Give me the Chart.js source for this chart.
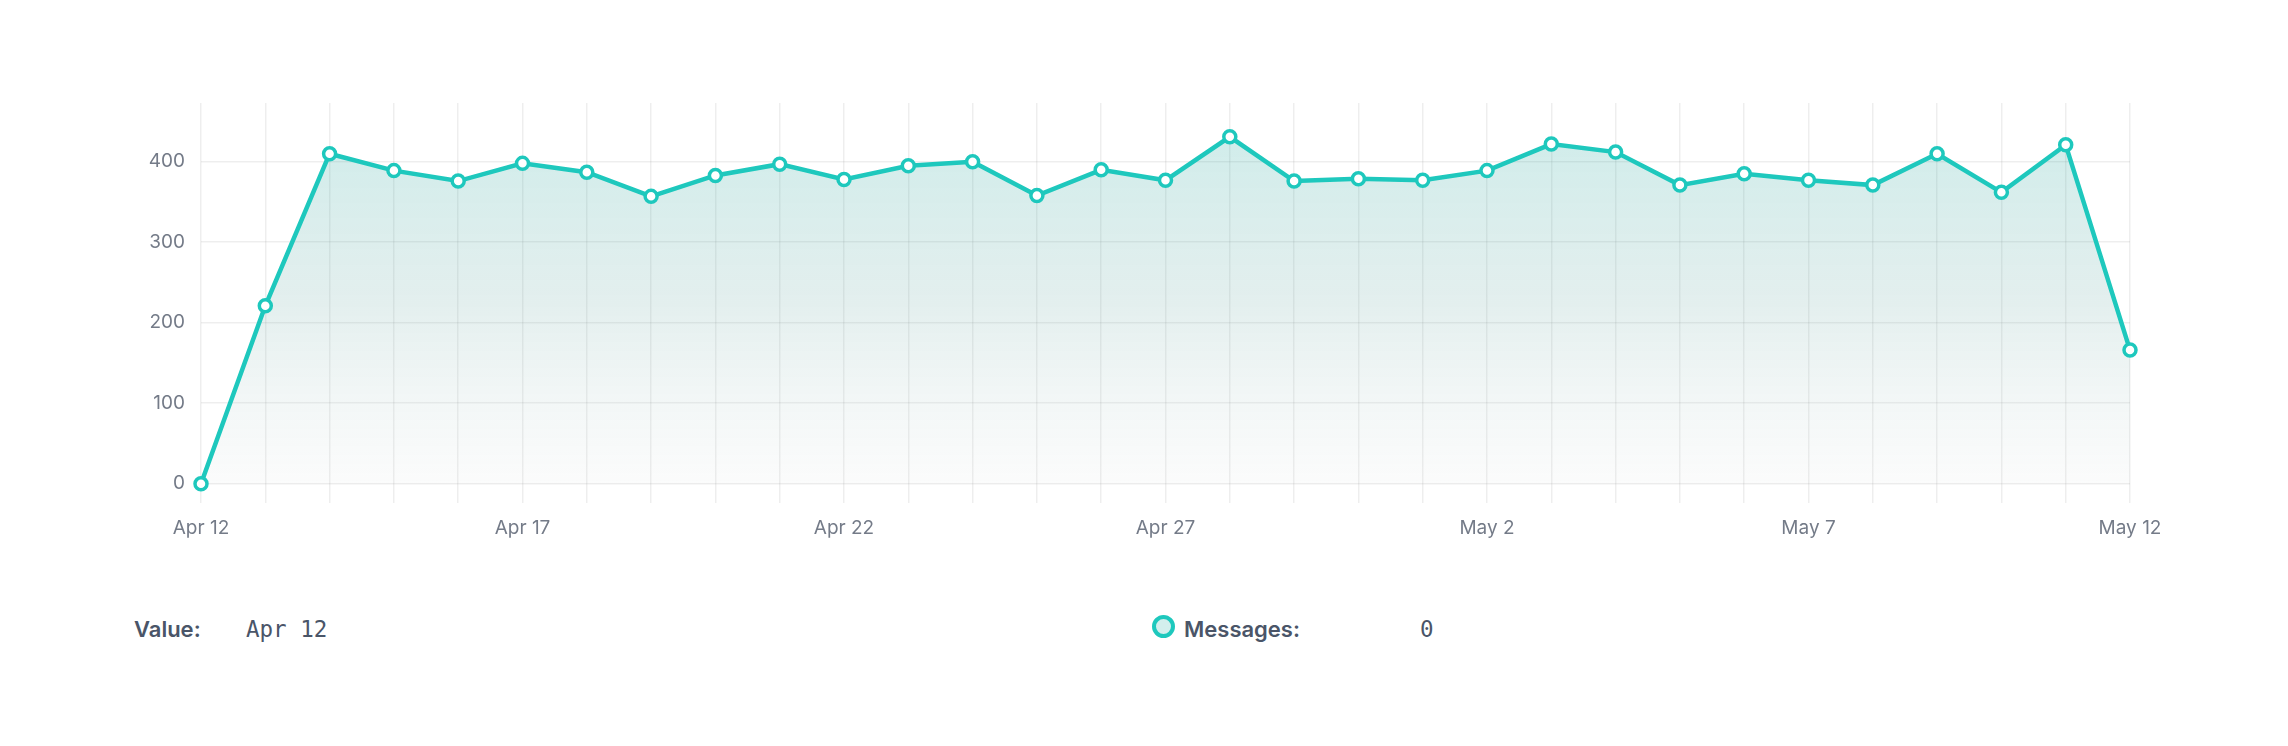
<!DOCTYPE html>
<html>
<head>
<meta charset="utf-8">
<script src="https://cdn.jsdelivr.net/npm/chart.js@4"></script>
<style>
  html, body { margin: 0; padding: 0; background: #fff; width: 2288px; height: 746px; overflow: hidden; }
  #wrap { position: absolute; left: 0; top: 0; width: 2288px; height: 563px; }
  .info { position: absolute; top: 614px; height: 30px; line-height: 30px; color: #4a5568; font-size: 22px; white-space: nowrap; }
  .lbl { font-family: Inter, "Noto Sans", sans-serif; font-weight: 600; }
  .mono { font-family: "DejaVu Sans Mono", "Liberation Mono", monospace; font-size: 22.5px; }
  .dot { position: absolute; top: 615px; left: 1152px; width: 15px; height: 15px; border: 4px solid #1ec8bd; border-radius: 50%; background: #d3efed; }
</style>
</head>
<body>
<div id="wrap"><canvas id="chart1"></canvas></div>

<div class="info lbl" style="left:134px">Value:</div>
<div class="info mono" style="left:246px">Apr 12</div>
<span class="dot"></span>
<div class="info lbl" style="left:1184px">Messages:</div>
<div class="info mono" style="left:1420px">0</div>

<script>
const dates = [
  "Apr 12","Apr 13","Apr 14","Apr 15","Apr 16","Apr 17","Apr 18","Apr 19","Apr 20","Apr 21",
  "Apr 22","Apr 23","Apr 24","Apr 25","Apr 26","Apr 27","Apr 28","Apr 29","Apr 30","May 1",
  "May 2","May 3","May 4","May 5","May 6","May 7","May 8","May 9","May 10","May 11","May 12"
];
const messages = [
  0, 221, 410, 389, 376, 398, 387, 357, 383, 397,
  378, 395, 400, 358, 390, 377, 431, 376, 379, 377,
  389, 422, 412, 371, 385, 377, 371, 410, 362, 421, 166
];
const xTickLabels = ["Apr 12","Apr 17","Apr 22","Apr 27","May 2","May 7","May 12"];
const yTicks = [0, 100, 200, 300, 400];

const teal = "#1ec8bd";
const gridColor = "rgba(0,0,0,0.065)";
const tickColor = "#747b88";

const ctx = document.getElementById("chart1").getContext("2d");
const chart = new Chart(ctx, {
  type: "line",
  data: {
    labels: dates,
    datasets: [{
      label: "Messages",
      data: messages,
      borderColor: teal,
      borderWidth: 4.5,
      tension: 0,
      fill: "origin",
      backgroundColor: (c) => {
        const area = c.chart.chartArea;
        if (!area) return "rgba(30,200,189,0.2)";
        const g = c.chart.ctx.createLinearGradient(0, area.top, 0, area.bottom);
        g.addColorStop(0, "rgba(25,170,160,0.22)");
        g.addColorStop(0.5, "rgba(90,160,155,0.17)");
        g.addColorStop(1, "rgba(220,220,220,0.08)");
        return g;
      },
      pointRadius: 6,
      pointBorderWidth: 3.5,
      pointBackgroundColor: "#fff",
      pointBorderColor: teal
    }]
  },
  options: {
    responsive: true,
    maintainAspectRatio: false,
    animation: false,
    layout: { padding: { left: 0, right: 158, top: 103, bottom: 0 } },
    plugins: { legend: { display: false }, tooltip: { enabled: false } },
    scales: {
      x: {
        grid: { color: gridColor, lineWidth: 1.5, drawTicks: false },
        border: { display: false },
        ticks: {
          autoSkip: false,
          maxRotation: 0,
          padding: 14,
          color: tickColor,
          font: { family: "Inter", size: 19 },
          callback: function (v, i) {
            const lab = dates[i];
            return xTickLabels.includes(lab) ? lab : "";
          }
        },
        afterFit: (s) => { s.height = 60; }
      },
      y: {
        min: -24,
        max: 473,
        grid: { color: gridColor, lineWidth: 1.5, drawTicks: false },
        border: { display: false },
        ticks: {
          padding: 16,
          color: tickColor,
          font: { family: "Inter", size: 19 }
        },
        afterBuildTicks: (s) => { s.ticks = yTicks.map(v => ({ value: v })); },
        afterFit: (s) => { s.width = 201; }
      }
    }
  }
});
</script>
</body>
</html>
